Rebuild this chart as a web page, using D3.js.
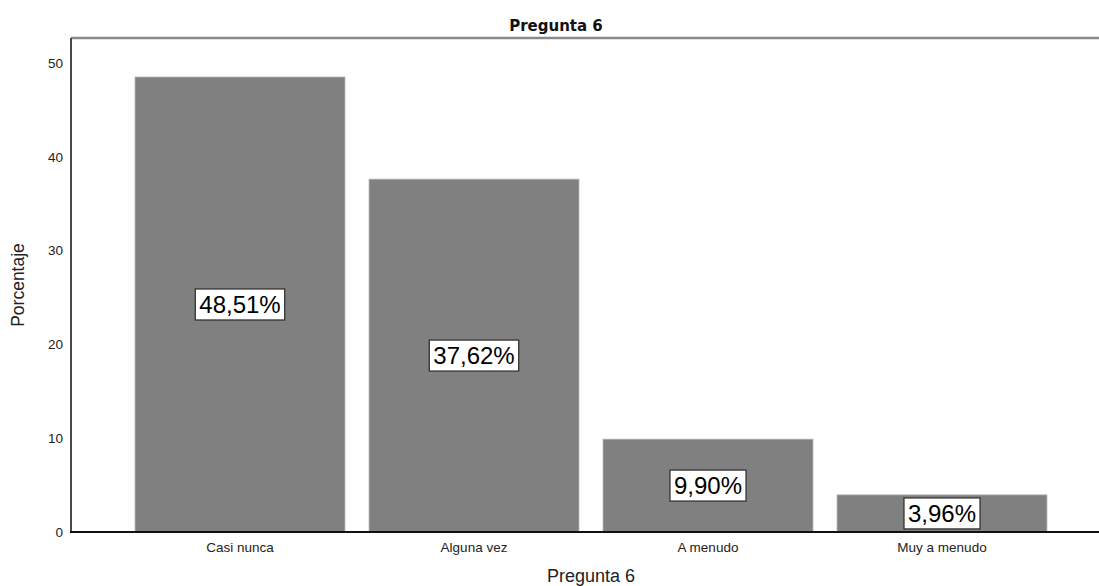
<!DOCTYPE html>
<html>
<head>
<meta charset="utf-8">
<script src="https://cdn.jsdelivr.net/npm/d3@7"></script>
<style>
  html, body { margin: 0; padding: 0; background: #fff; }
  svg { display: block; }
</style>
</head>
<body>
<svg id="chart" width="1099" height="586"></svg>
<script>
// Responses to question 6, share of respondents per answer
const categories = ["Casi nunca", "Alguna vez", "A menudo", "Muy a menudo"];
const percentages = [48.51, 37.62, 9.90, 3.96];
const valueLabels = ["48,51%", "37,62%", "9,90%", "3,96%"];
const yTicks = [0, 10, 20, 30, 40, 50];

const svg = d3.select("#chart");
const plotLeft = 71, plotTop = 38, plotBottom = 532, plotRight = 1111;

const x = d3.scaleBand()
  .domain(categories)
  .range([plotLeft, plotRight])
  .paddingInner(0.1026)
  .paddingOuter(0.2735);

const y = d3.scaleLinear()
  .domain([0, 50])
  .range([plotBottom, 63]);

// frame: top border
svg.append("line")
  .attr("x1", plotLeft).attr("x2", 1099)
  .attr("y1", plotTop).attr("y2", plotTop)
  .attr("stroke", "#8a8a8a").attr("stroke-width", 2.5);

// bars
svg.append("g").selectAll("rect")
  .data(categories)
  .join("rect")
  .attr("x", d => x(d))
  .attr("width", x.bandwidth())
  .attr("y", (d, i) => y(percentages[i]))
  .attr("height", (d, i) => y(0) - y(percentages[i]))
  .attr("fill", "#808080")
  .attr("stroke", "#b8b8b8")
  .attr("stroke-width", 0.8);

// y axis
const yAxis = svg.append("g")
  .attr("transform", `translate(${plotLeft},0)`)
  .call(d3.axisLeft(y).tickValues(yTicks).tickSize(0).tickPadding(8));
yAxis.select(".domain").remove();
yAxis.append("line")
  .attr("x1", 0).attr("x2", 0)
  .attr("y1", plotTop).attr("y2", plotBottom)
  .attr("stroke", "#4a4a4a").attr("stroke-width", 2);
yAxis.selectAll("text")
  .attr("font-family", "Liberation Sans, Arial, sans-serif")
  .attr("font-size", 13.5)
  .attr("fill", "#222");

// x axis
const xAxis = svg.append("g")
  .attr("transform", `translate(0,${plotBottom})`)
  .call(d3.axisBottom(x).tickSize(0).tickPadding(10));
xAxis.select(".domain").remove();
xAxis.append("line")
  .attr("x1", plotLeft - 1).attr("x2", 1099)
  .attr("y1", 0).attr("y2", 0)
  .attr("stroke", "#111").attr("stroke-width", 2);
xAxis.selectAll("text")
  .attr("font-family", "Liberation Sans, Arial, sans-serif")
  .attr("font-size", 13.5)
  .attr("fill", "#222");

// value labels in boxes, centred at half bar height
const labels = svg.append("g").selectAll("g")
  .data(categories)
  .join("g")
  .attr("transform", (d, i) =>
    `translate(${x(d) + x.bandwidth() / 2},${y(percentages[i] / 2)})`);

labels.append("text")
  .attr("text-anchor", "middle")
  .attr("dy", "0.36em")
  .attr("font-family", "Liberation Sans, Arial, sans-serif")
  .attr("font-size", 24)
  .attr("fill", "#000")
  .text((d, i) => valueLabels[i]);

labels.each(function () {
  const g = d3.select(this);
  const bb = g.select("text").node().getBBox();
  g.insert("rect", "text")
    .attr("x", bb.x - 4)
    .attr("y", -15.5)
    .attr("width", bb.width + 8)
    .attr("height", 31)
    .attr("fill", "#fff")
    .attr("stroke", "#333")
    .attr("stroke-width", 1.3);
});

// title
svg.append("text")
  .attr("x", 556).attr("y", 31)
  .attr("text-anchor", "middle")
  .attr("font-family", "DejaVu Sans, Verdana, sans-serif")
  .attr("font-weight", "bold")
  .attr("font-size", 15)
  .attr("fill", "#111")
  .text("Pregunta 6");

// axis titles
svg.append("text")
  .attr("x", 591).attr("y", 582)
  .attr("text-anchor", "middle")
  .attr("font-family", "Liberation Sans, Arial, sans-serif")
  .attr("font-size", 18)
  .attr("fill", "#222")
  .text("Pregunta 6");

svg.append("text")
  .attr("transform", "translate(24,285) rotate(-90)")
  .attr("text-anchor", "middle")
  .attr("font-family", "Liberation Sans, Arial, sans-serif")
  .attr("font-size", 17.5)
  .attr("fill", "#222")
  .text("Porcentaje");
</script>
</body>
</html>
